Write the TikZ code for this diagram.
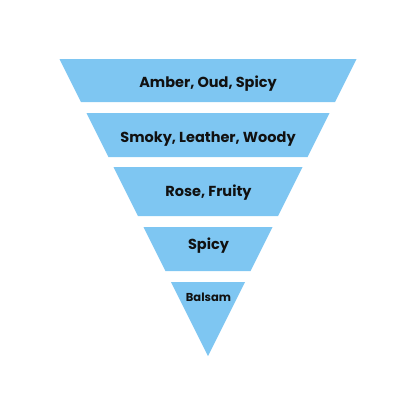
\documentclass[tikz,border=0pt]{standalone}
\usepackage{fontspec}
\setmainfont{Poppins}
\definecolor{layerblue}{RGB}{126,198,242}
\definecolor{inkblack}{RGB}{17,17,17}
\tikzset{
  band/.style={fill=layerblue, draw=none},
  lbl/.style={anchor=base, inner sep=0pt, text=inkblack, font=\bfseries\fontsize{14.5}{16}\selectfont},
  lblsmall/.style={lbl, font=\bfseries\fontsize{11.5}{13}\selectfont}
}
\begin{document}
\begin{tikzpicture}[x=1pt,y=-1pt]
\useasboundingbox (0,0) rectangle (416,416);
% bands of an inverted triangle with apex (208,356), half-width (356-y)/2
\fill[band] (59.5,59) -- (356.5,59) -- (335,102) -- (81,102) -- cycle;
\fill[band] (86.5,113) -- (329.5,113) -- (307.5,157) -- (108.5,157) -- cycle;
\fill[band] (113.5,167) -- (302.5,167) -- (278,216) -- (138,216) -- cycle;
\fill[band] (143.5,227) -- (272.5,227) -- (250.5,271) -- (165.5,271) -- cycle;
\fill[band] (171,282) -- (245,282) -- (208,356) -- cycle;
\node[lbl] (l1) at (208,87.7) {Amber, Oud, Spicy};
\node[lbl] (l2) at (208,142) {Smoky, Leather, Woody};
\node[lbl] (l3) at (208.5,196) {Rose, Fruity};
\node[lbl] (l4) at (208.5,249) {Spicy};
\node[lblsmall] (l5) at (208.5,301) {Balsam};
\end{tikzpicture}
\end{document}
